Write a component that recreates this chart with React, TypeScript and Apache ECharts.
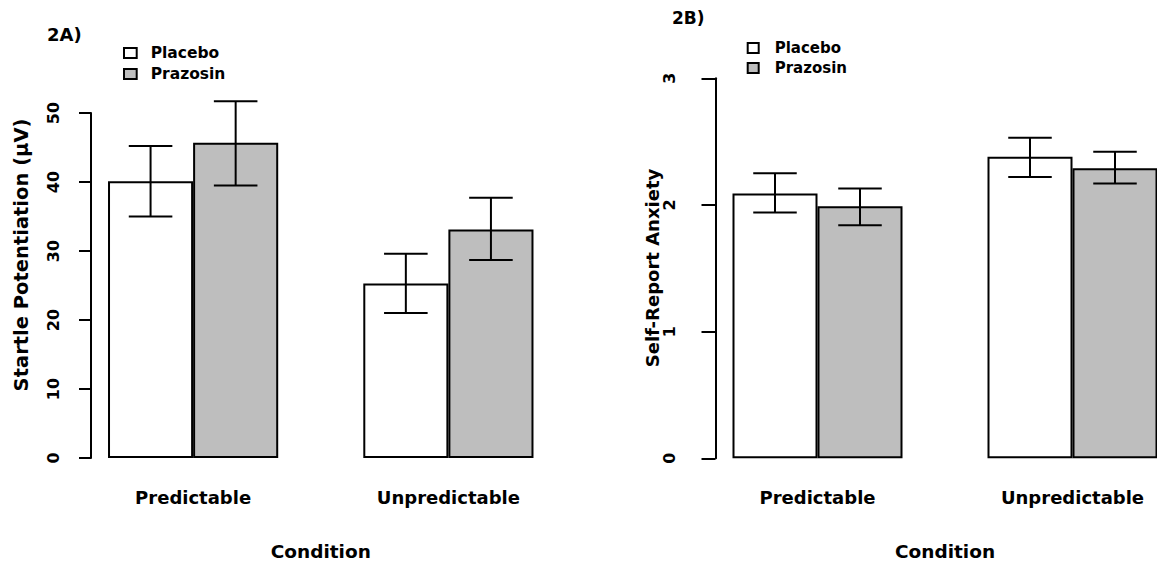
import React, { useEffect, useRef } from 'react';
import * as echarts from 'echarts';

// ---- data ----
const conditions = ['Predictable', 'Unpredictable'];
const groups = ['Placebo', 'Prazosin'];

const startlePlacebo = [40.1, 25.3];
const startlePlaceboLo = [35.0, 21.0];
const startlePlaceboHi = [45.2, 29.6];
const startlePrazosin = [45.7, 33.1];
const startlePrazosinLo = [39.5, 28.7];
const startlePrazosinHi = [51.7, 37.7];

const anxietyPlacebo = [2.09, 2.38];
const anxietyPlaceboLo = [1.94, 2.22];
const anxietyPlaceboHi = [2.25, 2.53];
const anxietyPrazosin = [1.99, 2.29];
const anxietyPrazosinLo = [1.84, 2.17];
const anxietyPrazosinHi = [2.13, 2.42];

const startleTicks = [0, 10, 20, 30, 40, 50];
const anxietyTicks = [0, 1, 2, 3];

const groupColors = ['#ffffff', '#bebebe'];

const TXT = '"DejaVu Sans", "Liberation Sans", sans-serif';
const TICK = '"DejaVu Sans", "Liberation Sans", sans-serif';

// bar positions on R-style barplot scale: groups at 1..3 and 4..6 (bar width 1, gap 1)
const barX = (ci: number, gi: number) => 1.5 + 3 * ci + gi;
const labelX = (ci: number) => 2 + 3 * ci;

export default function App() {
  const ref = useRef<HTMLDivElement>(null);

  useEffect(() => {
    if (!ref.current) return;
    const chart = echarts.init(ref.current, undefined, { renderer: 'svg' });

    const panels = [
      {
        grid: { left: 91, top: 113, width: 459.5, height: 345 },
        ticks: startleTicks,
        means: [startlePlacebo, startlePrazosin],
        lo: [startlePlaceboLo, startlePrazosinLo],
        hi: [startlePlaceboHi, startlePrazosinHi],
        labelMargin: 30,
        tickLen: 12,
      },
      {
        grid: { left: 715.5, top: 78.3, width: 459, height: 380 },
        ticks: anxietyTicks,
        means: [anxietyPlacebo, anxietyPrazosin],
        lo: [anxietyPlaceboLo, anxietyPrazosinLo],
        hi: [anxietyPlaceboHi, anxietyPrazosinHi],
        labelMargin: 38,
        tickLen: 14,
      },
    ];

    const grids: any[] = [];
    const xAxes: any[] = [];
    const yAxes: any[] = [];
    const series: any[] = [];

    panels.forEach((p, pi) => {
      const unit = p.grid.width / 5.4;
      grids.push({ ...p.grid, containLabel: false, outerBoundsMode: 'none' });
      xAxes.push({
        type: 'value',
        gridIndex: pi,
        min: 0.8,
        max: 6.2,
        axisLine: { show: false },
        axisTick: { show: false },
        splitLine: { show: false },
        axisLabel: {
          customValues: conditions.map((_, ci) => labelX(ci)),
          formatter: (v: number) => conditions[Math.round((v - 2) / 3)] ?? '',
          margin: 30,
          color: '#000',
          fontFamily: TXT,
          fontWeight: 'bold',
          fontSize: 18,
        },
        name: 'Condition',
        nameLocation: 'middle',
        nameGap: 84,
        nameTextStyle: { color: '#000', fontFamily: TXT, fontWeight: 'bold', fontSize: 18.5 },
      });
      const interval = p.ticks[1] - p.ticks[0];
      yAxes.push({
        type: 'value',
        gridIndex: pi,
        min: p.ticks[0],
        max: p.ticks[p.ticks.length - 1],
        interval,
        axisLine: { show: true, lineStyle: { color: '#000', width: 2 } },
        axisTick: { show: true, length: p.tickLen, lineStyle: { color: '#000', width: 2 } },
        splitLine: { show: false },
        axisLabel: {
          rotate: 90,
          margin: p.labelMargin,
          color: '#000',
          fontFamily: TICK,
          fontWeight: 'bold',
          fontSize: 16,
        },
      });
      groups.forEach((g, gi) => {
        series.push({
          type: 'bar',
          name: g,
          xAxisIndex: pi,
          yAxisIndex: pi,
          barWidth: unit,
          barGap: '-100%',
          itemStyle: { color: groupColors[gi], borderColor: '#000', borderWidth: 2 },
          data: p.means[gi].map((v, ci) => [barX(ci, gi), v]),
          silent: true,
        });
      });
      groups.forEach((g, gi) => {
        series.push({
          type: 'custom',
          name: g + ' SE',
          xAxisIndex: pi,
          yAxisIndex: pi,
          clip: false,
          z: 10,
          silent: true,
          encode: { x: 0, y: [1, 2] },
          data: p.means[gi].map((_, ci) => [barX(ci, gi), p.lo[gi][ci], p.hi[gi][ci]]),
          renderItem: (params: any, api: any) => {
            const x = api.value(0);
            const top = api.coord([x, api.value(2)]);
            const bot = api.coord([x, api.value(1)]);
            const half = api.size([0.256, 0])[0];
            const style = { stroke: '#000', lineWidth: 2 };
            return {
              type: 'group',
              children: [
                { type: 'line', shape: { x1: top[0], y1: top[1], x2: bot[0], y2: bot[1] }, style },
                { type: 'line', shape: { x1: top[0] - half, y1: top[1], x2: top[0] + half, y2: top[1] }, style },
                { type: 'line', shape: { x1: bot[0] - half, y1: bot[1], x2: bot[0] + half, y2: bot[1] }, style },
              ],
            };
          },
        });
      });
    });

    const legendBase = {
      data: groups,
      orient: 'vertical',
      icon: 'rect',
      itemHeight: 10,
      itemGap: 5,
      selectedMode: false,
      itemStyle: { borderColor: '#000', borderWidth: 2 },
    };

    chart.setOption({
      animation: false,
      backgroundColor: '#ffffff',
      grid: grids,
      xAxis: xAxes,
      yAxis: yAxes,
      series,
      legend: [
        {
          ...legendBase,
          left: 118,
          top: 40,
          itemWidth: 12.7,
          textStyle: { color: '#000', fontFamily: TXT, fontWeight: 'bold', fontSize: 15.5, padding: [0, 0, 0, 9] },
        },
        {
          ...legendBase,
          left: 741.7,
          top: 35.5,
          itemWidth: 11,
          textStyle: { color: '#000', fontFamily: TXT, fontWeight: 'bold', fontSize: 15, padding: [0, 0, 0, 11] },
        },
      ],
      graphic: [
        {
          type: 'text',
          x: 47,
          y: 25,
          style: { text: '2A)', font: `bold 18px ${TXT}`, fill: '#000', align: 'left', verticalAlign: 'top' },
        },
        {
          type: 'text',
          x: 672,
          y: 9,
          style: { text: '2B)', font: `bold 17px ${TXT}`, fill: '#000', align: 'left', verticalAlign: 'top' },
        },
        {
          type: 'text',
          x: 21,
          y: 255,
          rotation: Math.PI / 2,
          style: {
            text: 'Startle Potentiation (\u03BCV)',
            font: `bold 19.5px ${TXT}`,
            fill: '#000',
            align: 'center',
            verticalAlign: 'middle',
          },
        },
        {
          type: 'text',
          x: 652,
          y: 268,
          rotation: Math.PI / 2,
          style: {
            text: 'Self-Report Anxiety',
            font: `bold 18px ${TXT}`,
            fill: '#000',
            align: 'center',
            verticalAlign: 'middle',
          },
        },
      ],
    });

    return () => chart.dispose();
  }, []);

  return (
    <div
      ref={ref}
      style={{ position: 'absolute', left: 0, top: 0, width: 1157, height: 569, background: '#fff' }}
    />
  );
}
